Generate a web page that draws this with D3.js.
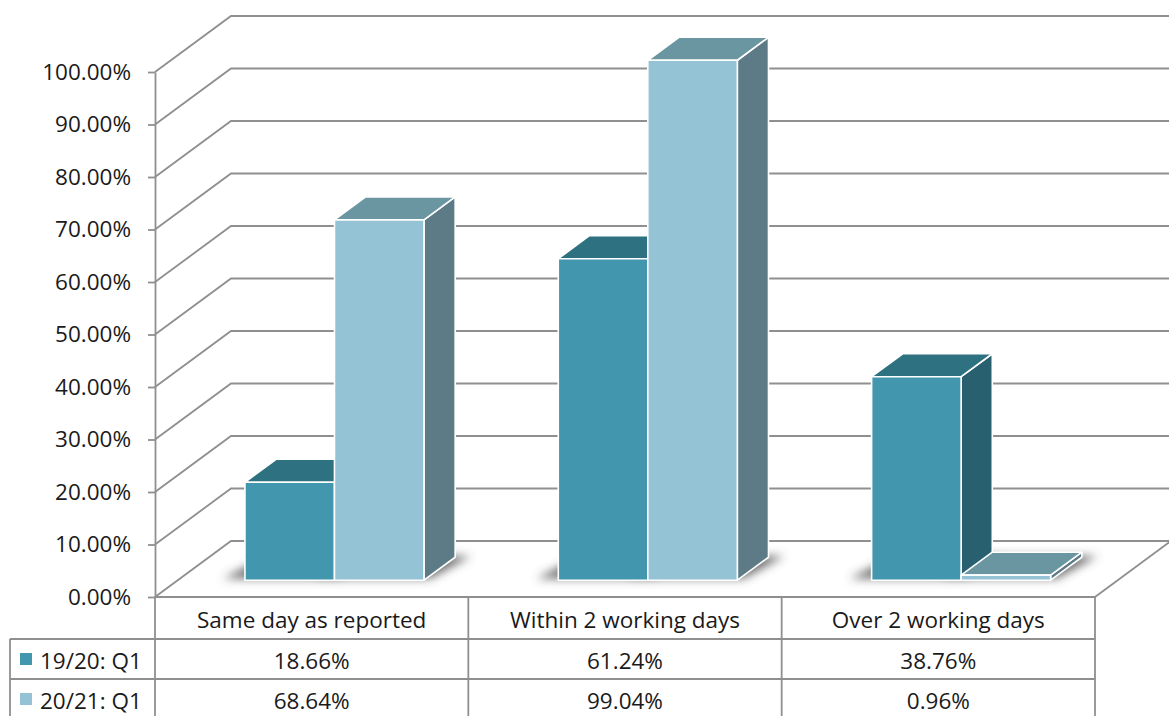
<!DOCTYPE html>
<html>
<head>
<meta charset="utf-8">
<script src="https://cdn.jsdelivr.net/npm/d3@7"></script>
<style>
  html, body { margin: 0; padding: 0; background: #fff; }
  svg { display: block; }
  text { font-family: "Open Sans", "DejaVu Sans", sans-serif; fill: #1a1a1a; }
</style>
</head>
<body>
<svg id="chart" width="1169" height="716"></svg>
<script>
// ---- data ----
const categories = ["Same day as reported", "Within 2 working days", "Over 2 working days"];
const seriesNames = ["19/20: Q1", "20/21: Q1"];
const values1920 = [18.66, 61.24, 38.76];
const values2021 = [68.64, 99.04, 0.96];
const yTicks = [0, 10, 20, 30, 40, 50, 60, 70, 80, 90, 100];

const seriesValues = [values1920, values2021];

// ---- palette: front / top / side per series ----
const palette = [
  { front: "#4297ae", top: "#2e7181", side: "#29606f", key: "#4297ae" },
  { front: "#94c3d5", top: "#6a96a2", side: "#5c7b86", key: "#94c3d5" }
];
const gridColor = "#8f8f8f";
const fontSize = 22.5;

// ---- 3D layout ----
const W = 1169, H = 716;
const left = 155, floorW = 940;
const depthX = 76, depthY = 56;          // screen offset of full wall depth
const barD0 = 0.30, barD1 = 0.71;         // bar front/back depth fractions

const svg = d3.select("#chart");

const y = d3.scaleLinear().domain([0, 100]).range([597, 72]);
const xCat = d3.scaleBand().domain(categories).range([0, floorW]);
const xSer = d3.scaleBand().domain(seriesNames)
  .range([0, xCat.bandwidth()]).paddingOuter(0.75).paddingInner(0);

// project floor coordinate u, value v, depth fraction d onto the screen
const P = (u, v, d) => [left + u + d * depthX, y(v) - d * depthY];
const poly = pts => "M" + pts.map(p => p.join(",")).join("L") + "Z";

const defs = svg.append("defs");
defs.append("filter").attr("id", "soft").attr("x", "-50%").attr("y", "-50%")
  .attr("width", "200%").attr("height", "200%")
  .append("feGaussianBlur").attr("stdDeviation", 5);

// ---- back wall gridlines and left wall diagonals ----
const grid = svg.append("g").attr("stroke", gridColor).attr("stroke-width", 1.8).attr("fill", "none");
yTicks.forEach(t => {
  const a = P(0, t, 0), b = P(0, t, 1);
  grid.append("path").attr("d", `M${a}L${b}L${W + 5},${b[1]}`);
});
// floor front-right edge
grid.append("path").attr("d", `M${P(floorW, 0, 0)}L${P(floorW, 0, 1)}`);
grid.append("path").attr("d", `M${P(floorW, 0, 1)}L${W + 5},${P(floorW, 0, 1)[1]}`);

// ---- y axis ----
const axis = svg.append("g").attr("transform", `translate(${left},0)`)
  .call(d3.axisLeft(y).tickValues(yTicks).tickSize(7).tickSizeOuter(0).tickPadding(17)
    .tickFormat(d => d.toFixed(2) + "%"));
axis.selectAll("path, line").attr("stroke", gridColor).attr("stroke-width", 1.8);
axis.selectAll("text").attr("font-size", fontSize).attr("fill", "#1a1a1a")
  .style("font-family", "\"Open Sans\", sans-serif");

// ---- bar shadows on the floor ----
const shadows = svg.append("g").attr("filter", "url(#soft)");
categories.forEach((c, ci) => {
  seriesNames.forEach((s, si) => {
    const u0 = xCat(c) + xSer(s), u1 = u0 + xSer.bandwidth();
    const pts = [P(u0 - 24, 0, barD0 + 0.03), P(u1 + 4, 0, barD0 + 0.03),
                 P(u1 + 14, 0, barD1 + 0.02), P(u0 - 10, 0, barD1 + 0.02)];
    shadows.append("path").attr("d", poly(pts)).attr("fill", "#4a4a4a").attr("opacity", 0.8);
  });
});

// ---- bars ----
const bars = svg.append("g").attr("stroke", "#fff").attr("stroke-width", 1.6)
  .attr("stroke-linejoin", "round");
categories.forEach((c, ci) => {
  seriesNames.forEach((s, si) => {
    const v = seriesValues[si][ci];
    const col = palette[si];
    const u0 = xCat(c) + xSer(s), u1 = u0 + xSer.bandwidth();
    const g = bars.append("g");
    // side face
    g.append("path").attr("fill", col.side)
      .attr("d", poly([P(u1, 0, barD0), P(u1, 0, barD1), P(u1, v, barD1), P(u1, v, barD0)]));
    // top face
    g.append("path").attr("fill", col.top)
      .attr("d", poly([P(u0, v, barD0), P(u1, v, barD0), P(u1, v, barD1), P(u0, v, barD1)]));
    // front face
    g.append("path").attr("fill", col.front)
      .attr("d", poly([P(u0, 0, barD0), P(u1, 0, barD0), P(u1, v, barD0), P(u0, v, barD0)]));
  });
});

// ---- data table ----
const rowTop = 597, headH = 42, rowH = 40;
const legendX = 10;
const table = svg.append("g").attr("stroke", gridColor).attr("stroke-width", 1.8);
const tableBottom = rowTop + headH + rowH * seriesNames.length;
table.append("line").attr("x1", left).attr("x2", left + floorW).attr("y1", rowTop).attr("y2", rowTop);
seriesNames.forEach((s, i) => {
  const yy = rowTop + headH + i * rowH;
  table.append("line").attr("x1", legendX).attr("x2", left + floorW).attr("y1", yy).attr("y2", yy);
});
table.append("line").attr("x1", legendX).attr("x2", left + floorW).attr("y1", tableBottom).attr("y2", tableBottom);
table.append("line").attr("x1", legendX).attr("x2", legendX).attr("y1", rowTop + headH).attr("y2", tableBottom);
[0, ...categories.map(c => xCat(c) + xCat.bandwidth())].forEach(u => {
  table.append("line").attr("x1", left + u).attr("x2", left + u).attr("y1", rowTop).attr("y2", tableBottom);
});

const txt = svg.append("g").attr("font-size", fontSize);
categories.forEach(c => {
  const cx = left + xCat(c) + xCat.bandwidth() / 2;
  txt.append("text").attr("x", cx).attr("y", rowTop + headH / 2 + 1)
    .attr("text-anchor", "middle").attr("dominant-baseline", "central").text(c);
  seriesNames.forEach((s, si) => {
    txt.append("text").attr("x", cx).attr("y", rowTop + headH + si * rowH + rowH / 2 + 1)
      .attr("text-anchor", "middle").attr("dominant-baseline", "central")
      .text(seriesValues[si][categories.indexOf(c)].toFixed(2) + "%");
  });
});
seriesNames.forEach((s, si) => {
  const cy = rowTop + headH + si * rowH + rowH / 2;
  svg.append("rect").attr("x", 20).attr("y", cy - 6).attr("width", 12).attr("height", 12)
    .attr("fill", palette[si].key);
  txt.append("text").attr("x", 40).attr("y", cy + 1).attr("dominant-baseline", "central").text(s);
});
</script>
</body>
</html>
